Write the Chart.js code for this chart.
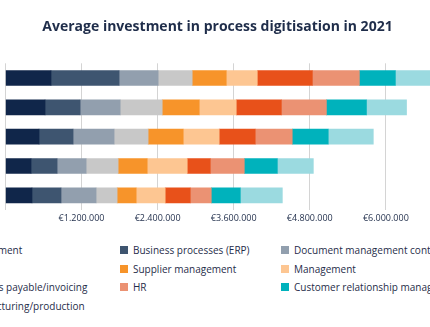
<!DOCTYPE html>
<html>
<head>
<meta charset="utf-8">
<script src="https://cdn.jsdelivr.net/npm/chart.js@4/dist/chart.umd.min.js"></script>
<style>
  html, body { margin: 0; padding: 0; background: #fff; }
  body { width: 430px; height: 327px; overflow: hidden; position: relative; font-family: "Open Sans", sans-serif; }
  #wrap { position: absolute; left: -150px; top: 0; width: 735px; height: 240px; }
  .legend {
    position: absolute; left: -52px; top: 241px;
    display: grid; grid-template-columns: 172px 161px 220px; grid-auto-rows: 18.5px;
    font-size: 10px; color: #1f2d4a; white-space: nowrap;
  }
  .legend-item { display: flex; align-items: center; }
  .legend-box { width: 8px; height: 8px; margin-right: 5px; flex: none; }
</style>
</head>
<body>
<div id="wrap"><canvas id="chart-invest"></canvas></div>
<div class="legend" id="legend"></div>
<script>
const companySizes = ['1,000+ employees', '250-999 employees', '50-249 employees', '10-49 employees', 'Under 10 employees'];

// average spend per process, in euros
const procurement = [718000, 624000, 529000, 403000, 418000];
const businessErp = [1074000, 553000, 537000, 411000, 458000];
const documentMgmt = [616000, 632000, 647000, 458000, 553000];
const sales = [537000, 663000, 537000, 505000, 332000];
const supplierMgmt = [537000, 584000, 553000, 458000, 300000];
const management = [490000, 584000, 568000, 632000, 458000];
const accountsPayable = [868000, 711000, 568000, 363000, 395000];
const hr = [742000, 711000, 584000, 537000, 332000];
const crm = [568000, 632000, 568000, 521000, 458000];
const manufacturing = [790000, 632000, 711000, 568000, 663000];

const xTicks = [0, 1200000, 2400000, 3600000, 4800000, 6000000, 7200000, 8400000];

const series = [
  { label: 'Procurement', data: procurement, color: '#10264a' },
  { label: 'Business processes (ERP)', data: businessErp, color: '#3e5570' },
  { label: 'Document management control', data: documentMgmt, color: '#929fae' },
  { label: 'Sales', data: sales, color: '#c8c8c8' },
  { label: 'Supplier management', data: supplierMgmt, color: '#f7942a' },
  { label: 'Management', data: management, color: '#fdc692' },
  { label: 'Accounts payable/invoicing', data: accountsPayable, color: '#e8511a' },
  { label: 'HR', data: hr, color: '#eb9273' },
  { label: 'Customer relationship management', data: crm, color: '#00b2bc' },
  { label: 'Manufacturing/production', data: manufacturing, color: '#9bdae0' },
];

const textColor = '#1f2d4a';

new Chart(document.getElementById('chart-invest'), {
  type: 'bar',
  data: {
    labels: companySizes,
    datasets: series.map(s => ({
      label: s.label,
      data: s.data,
      backgroundColor: s.color,
      borderWidth: 0,
      barThickness: 15,
    })),
  },
  options: {
    indexAxis: 'y',
    responsive: true,
    maintainAspectRatio: false,
    animation: false,
    // equal side padding keeps the title centred on the canvas
    layout: { padding: { left: 47, right: 47, top: 0, bottom: 2 } },
    plugins: {
      legend: { display: false },
      tooltip: { enabled: false },
      title: {
        display: true,
        text: 'Average investment in process digitisation in 2021',
        color: textColor,
        font: { family: 'Open Sans', size: 14, weight: 'bold' },
        padding: { top: 19, bottom: 27.5 },
      },
    },
    scales: {
      x: {
        stacked: true,
        min: 0,
        max: 8400000,
        afterBuildTicks: scale => { scale.ticks = xTicks.map(v => ({ value: v })); },
        grid: { color: '#d4d4d4', lineWidth: 1, drawTicks: false },
        border: { display: false },
        ticks: {
          padding: 3.5,
          color: textColor,
          font: { family: 'Open Sans', size: 9 },
          maxRotation: 0,
          callback: v => v === 0 ? '' : '€' + v.toLocaleString('de-DE'),
        },
      },
      y: {
        stacked: true,
        grid: { display: false },
        border: { display: false },
        afterFit: scale => { scale.width = 108.5; },
        ticks: { padding: 24, color: textColor, font: { family: 'Open Sans', size: 10 } },
      },
    },
  },
});

// legend in three columns, row by row
const legend = document.getElementById('legend');
series.forEach(s => {
  const item = document.createElement('div');
  item.className = 'legend-item';
  item.innerHTML = `<span class="legend-box" style="background:${s.color}"></span><span>${s.label}</span>`;
  legend.appendChild(item);
});
</script>
</body>
</html>
